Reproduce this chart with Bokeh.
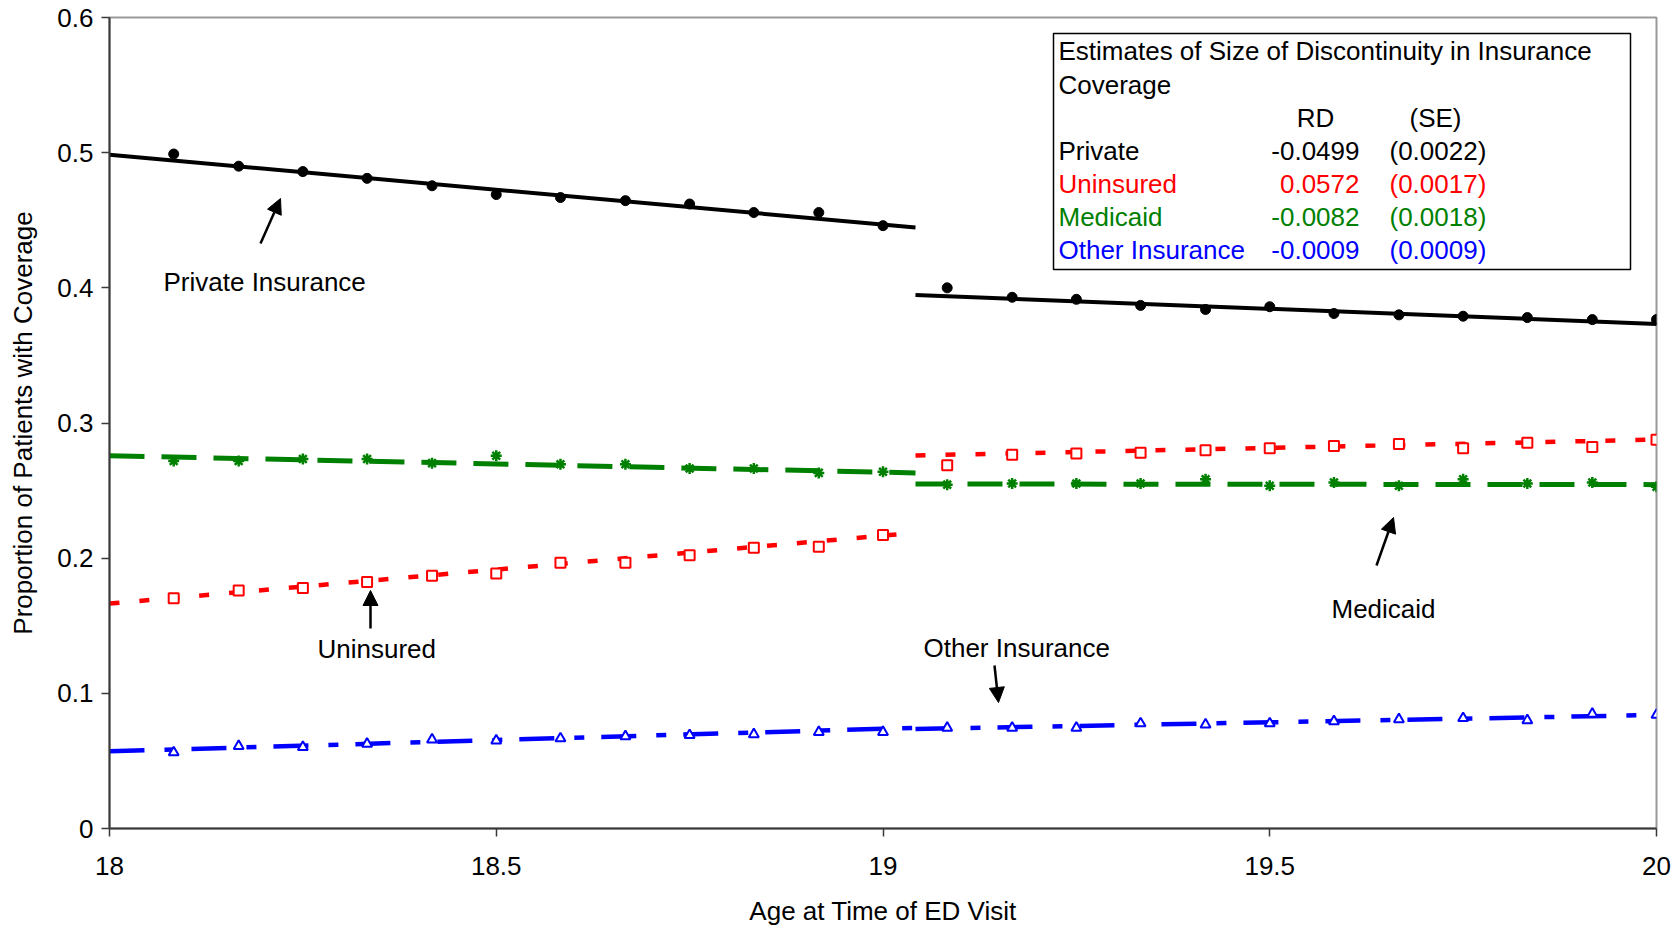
from bokeh.plotting import figure
from bokeh.models import Range1d, FixedTicker, Arrow, NormalHead, Label, ColumnDataSource
from bokeh.core.properties import value
from bokeh.embed import file_html
from bokeh.resources import INLINE

# Monthly age bins (years) and share of ED visits with each coverage type
age = [18.083, 18.167, 18.25, 18.333, 18.417, 18.5, 18.583, 18.667, 18.75, 18.833, 18.917, 19.0,
       19.083, 19.167, 19.25, 19.333, 19.417, 19.5, 19.583, 19.667, 19.75, 19.833, 19.917, 20.0]
private = [0.499, 0.490, 0.486, 0.481, 0.4755, 0.469, 0.4668, 0.4645, 0.462, 0.4557, 0.4557, 0.446,
           0.400, 0.393, 0.3915, 0.387, 0.384, 0.386, 0.381, 0.380, 0.379, 0.378, 0.3765, 0.3765]
uninsured = [0.1704, 0.176, 0.178, 0.1823, 0.187, 0.1886, 0.1966, 0.1966, 0.2021, 0.2077, 0.2085, 0.2172,
             0.2687, 0.2766, 0.2774, 0.278, 0.2798, 0.2814, 0.283, 0.2845, 0.2814, 0.2853, 0.2822, 0.2877]
medicaid = [0.2719, 0.2719, 0.2734, 0.2734, 0.2703, 0.2758, 0.2695, 0.2695, 0.2663, 0.2663, 0.2631, 0.2639,
            0.2544, 0.2552, 0.2552, 0.2552, 0.2584, 0.2536, 0.256, 0.2536, 0.2584, 0.2552, 0.256, 0.2528]
other = [0.0563, 0.061, 0.0602, 0.0626, 0.0658, 0.065, 0.0666, 0.0682, 0.069, 0.0697, 0.0713, 0.0713,
         0.0745, 0.0745, 0.0745, 0.0777, 0.0769, 0.0777, 0.0793, 0.0808, 0.0816, 0.08, 0.0848, 0.084]

# Fitted lines either side of the cutoff
fit_age_pre = [18.0, 19.042]
fit_age_post = [19.042, 20.0]
private_fit_pre = [0.4985, 0.4446]
private_fit_post_end = 0.3733
uninsured_fit_pre = [0.1664, 0.2188]
uninsured_fit_post_end = 0.2877
medicaid_fit_pre = [0.2758, 0.2631]
medicaid_fit_post_end = 0.2544
other_fit_pre = [0.0571, 0.0745]
other_fit_post_end = 0.0840

# Discontinuity estimates
series_names = ["Private", "Uninsured", "Medicaid", "Other Insurance"]
rd_values = [-0.0499, 0.0572, -0.0082, -0.0009]
se_values = [0.0022, 0.0017, 0.0018, 0.0009]
series_colors = ["black", "#FF0000", "#008000", "#0000FF"]

x_ticks = [18, 18.5, 19, 19.5, 20]
x_tick_labels = ["18", "18.5", "19", "19.5", "20"]
y_ticks = [0, 0.1, 0.2, 0.3, 0.4, 0.5, 0.6]
y_tick_labels = ["0", "0.1", "0.2", "0.3", "0.4", "0.5", "0.6"]

FONT = "Liberation Sans"
FS = "26px"

W, H = 1679, 928
FL, FR, FT, FB = 109, 1656, 17, 828
X0, X1, Y0, Y1 = 18.0, 20.0, 0.0, 0.6


def dx(px):
    return X0 + (px - FL) / (FR - FL) * (X1 - X0)


def dy(py):
    return Y1 - (py - FT) / (FB - FT) * (Y1 - Y0)


p = figure(width=W, height=H, output_backend="svg", toolbar_location=None,
           x_range=Range1d(X0, X1), y_range=Range1d(Y0, Y1),
           min_border_left=FL, min_border_right=W - FR,
           min_border_top=FT, min_border_bottom=H - FB)
p.background_fill_color = "white"
p.border_fill_color = "white"
p.outline_line_color = "#9a9a9a"
p.outline_line_width = 2
p.xgrid.visible = False
p.ygrid.visible = False

for ax in (p.xaxis[0], p.yaxis[0]):
    ax.axis_line_color = "#3a3a3a"
    ax.axis_line_width = 2
    ax.major_tick_line_color = "#3a3a3a"
    ax.major_tick_line_width = 1.5
    ax.major_tick_out = 8
    ax.major_tick_in = 0
    ax.minor_tick_line_color = None
    ax.major_label_text_font = FONT
    ax.major_label_text_font_size = FS
    ax.major_label_text_color = "black"
    ax.axis_label_text_font = FONT
    ax.axis_label_text_font_size = FS
    ax.axis_label_text_font_style = "normal"
    ax.axis_label_text_color = "black"

p.xaxis.ticker = FixedTicker(ticks=x_ticks)
p.xaxis.major_label_overrides = dict(zip(x_ticks, x_tick_labels))
p.yaxis.ticker = FixedTicker(ticks=y_ticks)
p.yaxis.major_label_overrides = dict(zip(y_ticks, y_tick_labels))
p.xaxis.axis_label = "Age at Time of ED Visit"
p.yaxis.axis_label = "Proportion of Patients with Coverage"
p.xaxis.major_label_standoff = 20
p.xaxis.axis_label_standoff = 18
p.yaxis.major_label_standoff = 8
p.yaxis.axis_label_standoff = 16

# Fitted lines
fits = [
    (private_fit_pre, private_fit_post_end, rd_values[0], "black", 4, "solid"),
    (uninsured_fit_pre, uninsured_fit_post_end, rd_values[1], "#FF0000", 4.5, "10 20"),
    (medicaid_fit_pre, medicaid_fit_post_end, rd_values[2], "#008000", 5, "35 17"),
    (other_fit_pre, other_fit_post_end, rd_values[3], "#0000FF", 4.5, "35 20 10 17"),
]
for pre, post_end, rd, col, lw, dash in fits:
    p.line(fit_age_pre, pre, line_color=col, line_width=lw, line_dash=dash)
    post = [pre[1] + rd, post_end]
    p.line(fit_age_post, post, line_color=col, line_width=lw, line_dash=dash)

# Monthly points
p.scatter(age, medicaid, marker="asterisk", size=11, line_color="#008000", line_width=2.5)
p.scatter(age, uninsured, marker="square", size=10, line_color="#FF0000", line_width=2,
          fill_color="white")
p.scatter(age, other, marker="triangle", size=10, line_color="#0000FF", line_width=2,
          fill_color="white")
p.scatter(age, private, marker="circle", size=10, line_color="black", fill_color="black")

# Series annotations with arrows
notes = [
    ("Private Insurance", 163, 281, (260, 243), (280, 198)),
    ("Uninsured", 317, 648, (370, 628), (370, 590)),
    ("Medicaid", 1331, 608, (1376, 565), (1393, 517)),
    ("Other Insurance", 923, 647, (994, 665), (998, 702)),
]
for txt, lx, ly, tail, tip in notes:
    p.add_layout(Label(x=dx(lx), y=dy(ly), text=txt, text_font=FONT, text_font_size=FS,
                       text_baseline="middle", text_align="left", text_color="black"))
    p.add_layout(Arrow(x_start=dx(tail[0]), y_start=dy(tail[1]), x_end=dx(tip[0]), y_end=dy(tip[1]),
                       line_color="black", line_width=2.5,
                       end=NormalHead(size=15, fill_color="black", line_color="black")))

# Box listing the discontinuity estimates
p.quad(left=[dx(1053)], right=[dx(1630)], top=[dy(33)], bottom=[dy(269)],
       fill_color="white", line_color="black", line_width=1.5)

row_y = [50, 84, 117, 150, 183, 216, 249]
head = ColumnDataSource(dict(
    x=[dx(1058), dx(1058), dx(1315), dx(1435)],
    y=[dy(row_y[0]), dy(row_y[1]), dy(row_y[2]), dy(row_y[2])],
    t=["Estimates of Size of Discontinuity in Insurance", "Coverage", "RD", "(SE)"],
    a=["left", "left", "center", "center"],
))
p.text(x="x", y="y", text="t", text_align="a", source=head, text_font=value(FONT),
       text_font_size=FS, text_baseline="middle", text_color="black")

rows_y = [dy(v) for v in row_y[3:]]
rows = ColumnDataSource(dict(
    y=rows_y,
    name=series_names,
    rd=["%.4f" % v for v in rd_values],
    se=["(%.4f)" % v for v in se_values],
    c=series_colors,
))
p.text(x=dx(1058), y="y", text="name", source=rows, text_color="c", text_font=value(FONT),
       text_font_size=FS, text_baseline="middle", text_align="left")
p.text(x=dx(1359), y="y", text="rd", source=rows, text_color="c", text_font=value(FONT),
       text_font_size=FS, text_baseline="middle", text_align="right")
p.text(x=dx(1389), y="y", text="se", source=rows, text_color="c", text_font=value(FONT),
       text_font_size=FS, text_baseline="middle", text_align="left")

open("out.html", "w").write(file_html(p, INLINE))
